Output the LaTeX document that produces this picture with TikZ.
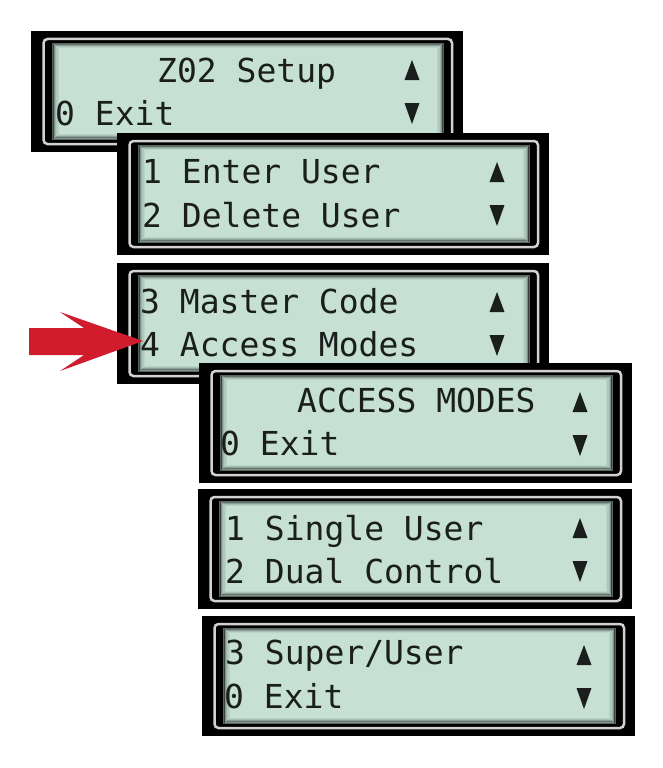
\documentclass[tikz,border=0pt]{standalone}
\usepackage{fontspec}
\newfontfamily\lcdfont{DejaVu Sans Mono}
\definecolor{lcdgreen}{RGB}{198,224,211}
\definecolor{arrowred}{RGB}{208,28,44}
\definecolor{lcdink}{RGB}{26,30,28}
\definecolor{bezel}{RGB}{210,210,210}
\tikzset{
  lcdline/.style={font=\lcdfont\fontsize{33}{33}\selectfont, text=lcdink, inner sep=0pt, anchor=base west},
  tri/.style={fill=lcdink},
}
\newcommand{\lcdpanel}[5]{% #1 name, #2 left, #3 top, #4 right, #5 bottom
  \fill[black] (#2,#3) rectangle (#4,#5);
  \draw[bezel, line width=2.5pt, rounded corners=4pt] (#2+12.5,#3+8) rectangle (#4-11,#5-8);
  \fill[lcdgreen] (#2+21,#3+12) rectangle (#4-19,#5-12);
  \begin{scope}
    \clip (#2+21,#3+12) rectangle (#4-19,#5-12);
    \foreach \d/\o in {0.8/0.55,2.2/0.35,3.6/0.2,5/0.1,6.4/0.05}
      \draw[black, opacity=\o, line width=1.5pt] (#2+21+\d,#3+12+\d*0.6) rectangle (#4-19-\d,#5-12-\d*0.8);
  \end{scope}
  \coordinate (#1) at (#2,#3);
}
\newcommand{\updown}[2]{% #1 centre x, #2 panel top
  \fill[tri] (#1-7.5,#2+49) -- (#1+7.5,#2+49) -- (#1,#2+29) -- cycle;
  \fill[tri] (#1-7.5,#2+72) -- (#1+7.5,#2+72) -- (#1,#2+93) -- cycle;
}
\begin{document}
\begin{tikzpicture}[x=1pt,y=-1pt]
\useasboundingbox (0,0) rectangle (663,768);
% panel 1
\lcdpanel{p1}{31}{31}{463}{152}
\node[lcdline] (p1a) at (157,82) {Z02 Setup};
\node[lcdline] (p1b) at (55,125) {0 Exit};
\updown{412}{31}
% panel 2
\lcdpanel{p2}{117}{133}{549}{255}
\node[lcdline] (p2a) at (142,183) {1 Enter User};
\node[lcdline] (p2b) at (142,227) {2 Delete User};
\updown{497}{133}
% panel 3
\lcdpanel{p3}{117}{263}{549}{384}
\node[lcdline] (p3a) at (140,313) {3 Master Code};
\node[lcdline] (p3b) at (140,356) {4 Access Modes};
\updown{497}{263}
% red pointer
\fill[arrowred] (29,328) -- (84,328) -- (60,312) -- (143,341) -- (60,371) -- (84,355) -- (29,355) -- cycle;
% panel 4
\lcdpanel{p4}{199}{363}{632}{483}
\node[lcdline] (p4a) at (297,412) {ACCESS MODES};
\node[lcdline] (p4b) at (220,455) {0 Exit};
\updown{580}{363}
% panel 5
\lcdpanel{p5}{198}{489}{632}{609}
\node[lcdline] (p5a) at (225,540) {1 Single User};
\node[lcdline] (p5b) at (225,583) {2 Dual Control};
\updown{580}{489}
% panel 6
\lcdpanel{p6}{202}{616}{635}{736}
\node[lcdline] (p6a) at (225,664) {3 Super/User};
\node[lcdline] (p6b) at (224,708) {0 Exit};
\updown{584}{616}
\end{tikzpicture}
\end{document}
